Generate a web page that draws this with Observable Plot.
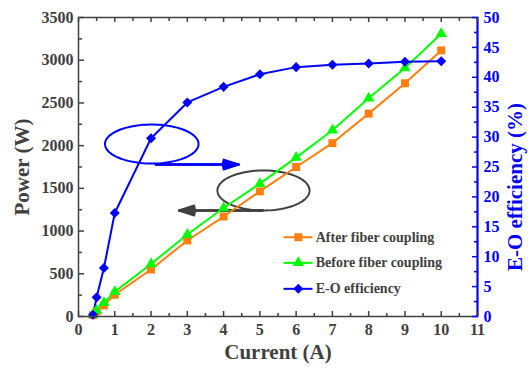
<!DOCTYPE html>
<html>
<head>
<meta charset="utf-8">
<script src="https://cdn.jsdelivr.net/npm/d3@7"></script>
<script src="https://cdn.jsdelivr.net/npm/@observablehq/plot@0.6"></script>
<style>
  html, body { margin: 0; padding: 0; background: #fff; }
  #chart { position: relative; width: 530px; height: 368px; }
  #chart svg text { font-family: 'Liberation Serif', 'Times New Roman', serif; }
</style>
</head>
<body>
<div id="chart"></div>
<script>
// ---- data ----
const current = [0.4, 0.5, 0.7, 1, 2, 3, 4, 5, 6, 7, 8, 9, 10];
const afterCoupling = [15, 60, 130, 255, 550, 890, 1170, 1465, 1750, 2030, 2375, 2730, 3115];
const beforeCoupling = [20, 70, 160, 290, 615, 960, 1270, 1555, 1860, 2180, 2555, 2910, 3310];
const efficiency = [0.3, 3.2, 8.1, 17.3, 29.8, 35.8, 38.4, 40.5, 41.7, 42.1, 42.3, 42.6, 42.7];

const seriesNames = ["After fiber coupling", "Before fiber coupling", "E-O efficiency"];
const seriesColors = ["#ff7f0e", "#00ff00", "#0000ff"];

const xTicks = [0, 1, 2, 3, 4, 5, 6, 7, 8, 9, 10, 11];
const powerTicks = [0, 500, 1000, 1500, 2000, 2500, 3000, 3500];
const effTicks = [0, 5, 10, 15, 20, 25, 30, 35, 40, 45, 50];

// annotation shapes (data units)
const ellipses = [
  {cx: 2.02, cy: 2019, rx: 1.29, ry: 228, color: "#0000ff"},
  {cx: 5.10, cy: 1475, rx: 1.27, ry: 234, color: "#404040"}
];
const arrows = [
  {x1: 2.13, y1: 1779, x2: 4.42, y2: 1779, color: "#0000ff"},
  {x1: 5.08, y1: 1241, x2: 2.77, y2: 1241, color: "#404040"}
];
// legend placement (data units)
const legendY = [928, 628, 324];
const legendX1 = 5.65, legendX2 = 6.45, legendXm = 6.06, legendXt = 6.54;

// ---- derived ----
const effToPower = 3500 / 50;
const rows = current.map((c, i) => ({c, after: afterCoupling[i], before: beforeCoupling[i], eff: efficiency[i] * effToPower}));
const ellipsePts = ellipses.flatMap((e, k) => d3.range(0, 361, 4).map(a => ({
  k, color: e.color,
  x: e.cx + e.rx * Math.cos(a * Math.PI / 180),
  y: e.cy + e.ry * Math.sin(a * Math.PI / 180)
})));
const minorX = d3.range(0.5, 11, 1);
const minorP = d3.range(250, 3500, 500);
const minorE = d3.range(2.5, 50, 5).map(v => v * effToPower);
const legend = seriesNames.map((n, i) => ({name: n, color: seriesColors[i], y: legendY[i]}));
const symbols = ["square", "triangle", "square"];
const rotates = [0, 0, 45];
const radii = [4.5, 4.2, 4.0];

const gray = "#404040";
const blue = "#0000ff";
const serif = "'Liberation Serif', 'Times New Roman', serif";

const marks = [
  // annotations
  Plot.line(ellipsePts, {x: "x", y: "y", z: "k", stroke: "color", strokeWidth: 2}),
  ...[36, 26, 16, 6].map(ang => Plot.arrow(arrows, {x1: "x1", y1: "y1", x2: "x2", y2: "y2", stroke: "color", strokeWidth: 2, headAngle: ang, headLength: 12})),
  // data lines
  Plot.line(rows, {x: "c", y: "after", stroke: seriesColors[0], strokeWidth: 2}),
  Plot.line(rows, {x: "c", y: "before", stroke: seriesColors[1], strokeWidth: 2}),
  Plot.line(rows, {x: "c", y: "eff", stroke: seriesColors[2], strokeWidth: 2}),
  Plot.dot(rows, {x: "c", y: "after", symbol: "square", r: radii[0], fill: seriesColors[0], stroke: "none"}),
  Plot.dot(rows, {x: "c", y: "before", symbol: "triangle", r: radii[1], fill: seriesColors[1], stroke: "none"}),
  Plot.dot(rows, {x: "c", y: "eff", symbol: "square", rotate: 45, r: radii[2], fill: seriesColors[2], stroke: "none"}),
  // legend
  Plot.link(legend, {x1: () => legendX1, x2: () => legendX2, y1: "y", y2: "y", stroke: "color", strokeWidth: 2}),
  ...legend.map((d, i) => Plot.dot([d], {x: () => legendXm, y: "y", symbol: symbols[i], rotate: rotates[i], r: radii[i], fill: "color", stroke: "none"})),
  Plot.text(legend, {x: () => legendXt, y: "y", text: "name", textAnchor: "start", fill: gray, fontSize: 14, fontWeight: "bold", fontFamily: serif}),
  // frame
  Plot.frame({stroke: gray, strokeWidth: 1.5}),
  Plot.ruleX([11], {stroke: blue, strokeWidth: 2}),
  // bottom axis
  Plot.axisX({anchor: "bottom", ticks: xTicks, tickSize: -5, tickPadding: 12, tickFormat: d => String(d), color: gray, fontSize: 16, fontWeight: "bold", fontFamily: serif, strokeWidth: 1.5, label: null}),
  Plot.axisX({anchor: "bottom", ticks: minorX, tickSize: -3, tickFormat: () => "", color: gray, strokeWidth: 1.5, label: null}),
  // top mirror ticks
  Plot.axisX({anchor: "top", ticks: xTicks, tickSize: -4, tickFormat: () => "", color: gray, strokeWidth: 1.5, label: null}),
  Plot.axisX({anchor: "top", ticks: minorX, tickSize: -3, tickFormat: () => "", color: gray, strokeWidth: 1.5, label: null}),
  // left axis
  Plot.axisY({anchor: "left", ticks: powerTicks, tickSize: -6, tickPadding: 11, tickFormat: d => String(d), color: gray, fontSize: 16, fontWeight: "bold", fontFamily: serif, strokeWidth: 1.5, label: null}),
  Plot.axisY({anchor: "left", ticks: minorP, tickSize: -4, tickFormat: () => "", color: gray, strokeWidth: 1.5, label: null}),
  // right axis (efficiency)
  Plot.axisY({anchor: "right", ticks: effTicks.map(v => v * effToPower), tickSize: -6, tickPadding: 12, tickFormat: d => String(Math.round(d / effToPower)), color: blue, fontSize: 16, fontWeight: "bold", fontFamily: serif, strokeWidth: 1.5, label: null}),
  Plot.axisY({anchor: "right", ticks: minorE, tickSize: -4, tickFormat: () => "", color: blue, strokeWidth: 1.5, label: null}),
  // axis titles
  Plot.text(["Power (W)"], {frameAnchor: "left", dx: -56, rotate: -90, textAnchor: "middle", fill: gray, fontSize: 21, fontWeight: "bold", fontFamily: serif}),
  Plot.text(["E-O efficiency (%)"], {frameAnchor: "right", dx: 38, dy: 20, rotate: -90, textAnchor: "middle", fill: blue, fontSize: 21, fontWeight: "bold", fontFamily: serif}),
  Plot.text(["Current (A)"], {frameAnchor: "bottom", dy: 42, textAnchor: "middle", fill: gray, fontSize: 21, fontWeight: "bold", fontFamily: serif})
];

const chart = Plot.plot({
  width: 530,
  height: 368,
  marginLeft: 78,
  marginRight: 53,
  marginTop: 17,
  marginBottom: 52,
  x: {domain: [0, 11]},
  y: {domain: [0, 3500]},
  style: {fontFamily: serif, background: "#fff", overflow: "visible"},
  marks
});
document.getElementById("chart").appendChild(chart);
</script>
</body>
</html>
